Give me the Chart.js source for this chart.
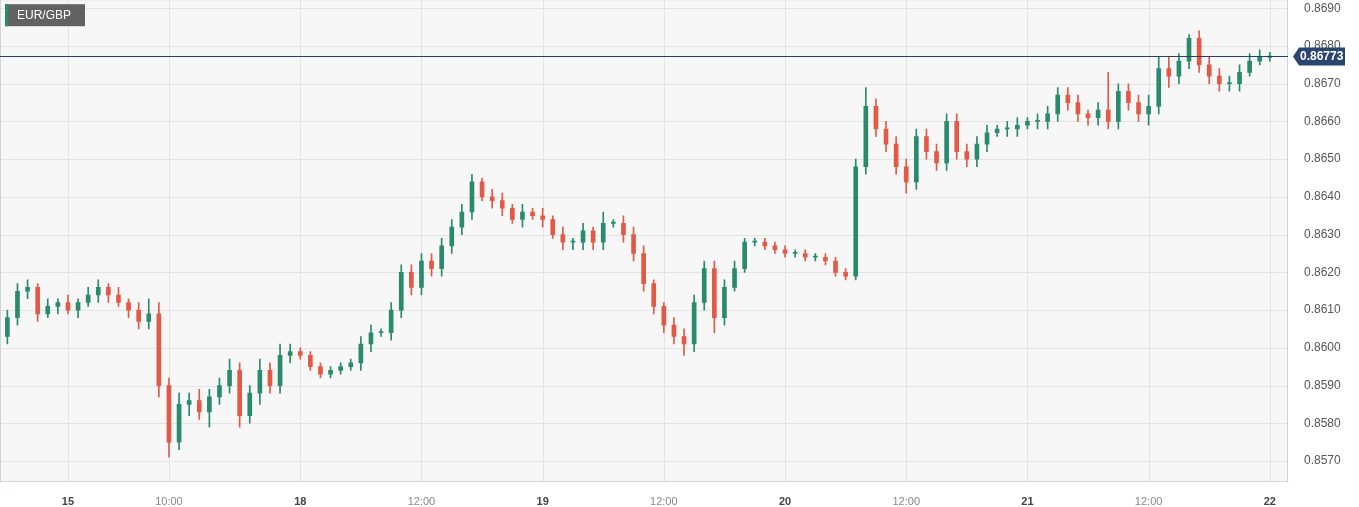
<!DOCTYPE html>
<html><head><meta charset="utf-8">
<script src="https://cdn.jsdelivr.net/npm/chart.js@4.4.1/dist/chart.umd.min.js"></script>
<style>html,body{margin:0;padding:0;background:#fff;overflow:hidden}#wrap{width:1359px;height:507px;position:relative;overflow:hidden}#inner{position:absolute;left:0;top:-16px;width:1359px;height:523px}</style>
</head><body><div id="wrap"><div id="inner"><canvas id="c"></canvas></div></div>
<script>
// trading-hour index of the first candle (15th 00:00 = 0)
const startHour = -6;
const closes = [0.8608,0.8615,0.8616,0.8609,0.8611,0.8612,0.8610,0.8612,0.8614,0.8616,0.8614,0.8612,0.8610,0.8607,0.8609,0.8590,0.8575,0.8585,0.8586,0.8583,0.8587,0.8590,0.8594,0.8582,0.8588,0.8594,0.8590,0.8598,0.8599,0.8598,0.8595,0.8593,0.8594,0.8595,0.8596,0.8601,0.8604,0.8604,0.8610,0.8620,0.8616,0.8623,0.8621,0.8627,0.8632,0.8636,0.8644,0.8640,0.8639,0.8637,0.8634,0.8636,0.8635,0.8634,0.8630,0.8628,0.8628,0.8631,0.8628,0.8633,0.8633,0.8630,0.8625,0.8617,0.8611,0.8606,0.8603,0.8601,0.8612,0.8621,0.8608,0.8616,0.8621,0.8628,0.8628,0.8627,0.8626,0.8625,0.8625,0.8624,0.8624,0.8623,0.8620,0.8619,0.8648,0.8664,0.8658,0.8654,0.8648,0.8644,0.8656,0.8652,0.8649,0.8660,0.8652,0.8650,0.8654,0.8657,0.8658,0.8658,0.8659,0.8660,0.8660,0.8662,0.8667,0.8665,0.8662,0.8661,0.8663,0.8660,0.8668,0.8665,0.8662,0.8664,0.8674,0.8672,0.8676,0.8682,0.8675,0.8672,0.8670,0.8670,0.8673,0.8676,0.8677,0.86773];
const firstOpen = 0.8603;
// wick extensions in pips beyond the body
const upperWick = [2,2,2,1,2,1,2,1,2,2,1,2,1,2,4,3,2,3,2,3,2,2,3,2,2,3,2,3,2,1,1,1,1,1,1,2,2,1,2,2,2,2,2,2,2,2,2,1,2,2,1,2,1,2,1,2,1,2,1,3,1,2,2,2,1,1,2,2,2,2,2,2,2,1,1,1,1,1,1,1,1,1,1,1,2,5,2,2,2,2,2,2,2,2,2,2,2,2,1,2,2,1,2,2,2,2,2,1,2,10,2,2,2,3,3,3,2,1,2,2,2,2,2,2,2,1];
const lowerWick = [2,2,2,2,1,2,1,2,1,2,2,1,2,2,2,3,4,2,3,2,4,2,2,3,2,3,2,2,2,1,1,1,1,1,1,2,2,1,2,2,2,2,2,2,2,2,2,1,2,2,1,2,1,2,1,2,2,2,2,2,1,2,2,2,2,2,2,3,2,2,4,2,1,1,1,1,1,1,1,1,1,1,1,1,1,2,2,2,2,3,2,2,2,2,2,2,2,2,1,2,2,1,2,2,2,2,2,2,2,2,2,2,2,3,2,3,2,2,2,2,2,2,2,1,1,1];
const tickHours = [0,10,23,35,47,59,71,83,95,107,119];
const tickTexts = ["15","10:00","18","12:00","19","12:00","20","12:00","21","12:00","22"];
const priceTicks = [0.8570,0.8580,0.8590,0.8600,0.8610,0.8620,0.8630,0.8640,0.8650,0.8660,0.8670,0.8680,0.8690];
const lastPrice = 0.86773;
const symbol = "EUR/GBP";

const UP = '#2a8a6c', DN = '#e25a45';
const bodies = [], wicks = [], colors = [];
closes.forEach((c, i) => {
  const o = i === 0 ? firstOpen : closes[i-1];
  const x = startHour + i;
  const hi = Math.max(o, c) + upperWick[i] * 0.0001;
  const lo = Math.min(o, c) - lowerWick[i] * 0.0001;
  let top = c, bot = o;
  if (Math.abs(c - o) < 0.00003) top = o + 0.00003;
  bodies.push({x, y: [bot, top]});
  wicks.push({x, y: [lo, hi]});
  colors.push(c >= o ? UP : DN);
});

const deco = {
  id: 'deco',
  beforeDatasetsDraw(ch) {
    const {ctx, chartArea: a} = ch;
    ctx.save();
    ctx.fillStyle = '#f7f7f7';
    ctx.fillRect(a.left, a.top, a.right - a.left, a.bottom - a.top);
    ctx.strokeStyle = '#e4e4e4'; ctx.lineWidth = 1;
    const y = ch.scales.y, x = ch.scales.x;
    priceTicks.forEach(p => { const py = Math.round(y.getPixelForValue(p)) + 0.5; ctx.beginPath(); ctx.moveTo(a.left, py); ctx.lineTo(a.right, py); ctx.stroke(); });
    tickHours.forEach(h => { const px = Math.round(x.getPixelForValue(h)) + 0.5; ctx.beginPath(); ctx.moveTo(px, a.top); ctx.lineTo(px, a.bottom); ctx.stroke(); });
    ctx.restore();
  },
  afterDatasetsDraw(ch) {
    const {ctx, chartArea: a} = ch;
    const y = ch.scales.y;
    ctx.save();
    ctx.strokeStyle = '#cdd2e6'; ctx.lineWidth = 1;
    ctx.strokeRect(a.left + 0.5, a.top + 0.5, a.right - a.left - 1, a.bottom - a.top);
    const py = Math.round(y.getPixelForValue(lastPrice)) + 0.5;
    ctx.strokeStyle = '#23416f';
    ctx.beginPath(); ctx.moveTo(a.left, py); ctx.lineTo(a.right, py); ctx.stroke();
    // price tag
    ctx.fillStyle = '#2a4670';
    const lx = a.right + 5;
    ctx.beginPath();
    ctx.moveTo(lx, py); ctx.lineTo(lx + 6, py - 9); ctx.lineTo(lx + 52, py - 9);
    ctx.lineTo(lx + 52, py + 9); ctx.lineTo(lx + 6, py + 9); ctx.closePath(); ctx.fill();
    ctx.fillStyle = '#fff'; ctx.font = 'bold 12px "Liberation Sans", Arial';
    ctx.textBaseline = 'middle'; ctx.textAlign = 'left';
    ctx.fillText(lastPrice.toFixed(5), lx + 7, py + 0.5);
    // symbol label
    const t = a.top;
    ctx.fillStyle = 'rgba(85,85,85,0.92)';
    ctx.fillRect(5, t + 5, 80, 22);
    ctx.fillStyle = '#2a8a6c'; ctx.fillRect(5, t + 5, 3, 22);
    ctx.fillStyle = '#fff'; ctx.font = '12px "Liberation Sans", Arial';
    ctx.fillText(symbol, 17, t + 16.5);
    ctx.restore();
  }
};

new Chart(document.getElementById('c'), {
  type: 'bar',
  data: { datasets: [
    { data: wicks, backgroundColor: colors, barThickness: 1, grouped: false, order: 2 },
    { data: bodies, backgroundColor: colors, barThickness: 4, grouped: false, order: 1 }
  ]},
  options: {
    responsive: true, maintainAspectRatio: false, animation: false,
    layout: { padding: 0 },
    plugins: { legend: { display: false }, tooltip: { enabled: false } },
    scales: {
      x: { type: 'linear', min: -6.73, max: 120.8, offset: false,
        grid: { display: false }, border: { display: false },
        afterBuildTicks: s => { s.ticks = tickHours.map(v => ({value: v})); },
        afterFit: s => { s.height = 26; },
        ticks: { autoSkip: false, maxRotation: 0, padding: 6,
          callback: (v) => tickTexts[tickHours.indexOf(v)],
          color: c => (tickTexts[c.index] || '').includes(':') ? '#888' : '#444',
          font: c => ({ family: '"Liberation Sans", Arial', size: 11, weight: (tickTexts[c.index] || '').includes(':') ? 'normal' : 'bold' }) } },
      y: { position: 'right', min: 0.85647, max: 0.86924,
        grid: { display: false }, border: { display: false },
        afterBuildTicks: s => { s.ticks = priceTicks.map(v => ({value: v})); },
        afterFit: s => { s.width = 71; },
        ticks: { padding: 8, color: '#555', font: { family: '"Liberation Sans", Arial', size: 12 },
          callback: v => v.toFixed(4) } }
    }
  },
  plugins: [deco]
});
</script></body></html>
